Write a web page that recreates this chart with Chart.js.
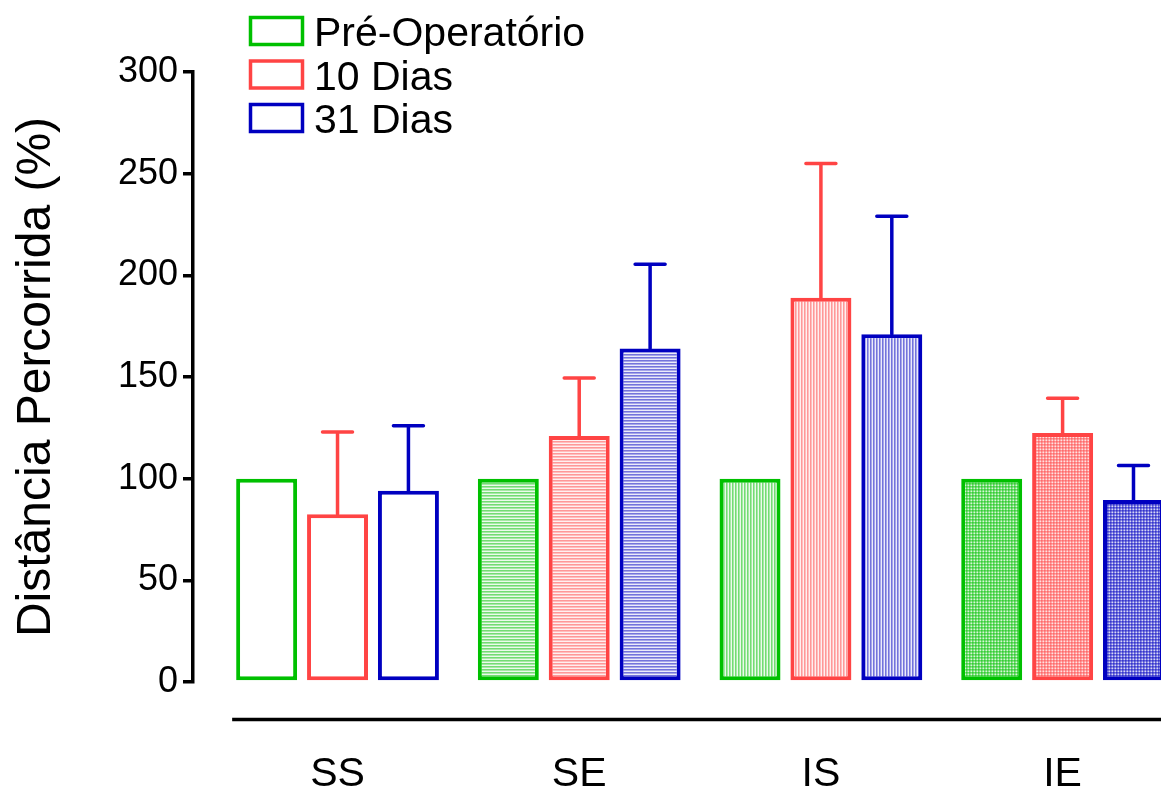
<!DOCTYPE html>
<html>
<head>
<meta charset="utf-8">
<script src="https://cdn.jsdelivr.net/npm/chart.js@4.4.1/dist/chart.umd.min.js"></script>
<style>
  html, body { margin: 0; padding: 0; background: #fff; overflow: hidden; }
  #wrap { position: relative; width: 1200px; height: 787px; }
</style>
</head>
<body>
<div id="wrap"><canvas id="myChart"></canvas></div>
<script>
// data
const groups = ['SS', 'SE', 'IS', 'IE'];
const seriesNames = ['Pré-Operatório', '10 Dias', '31 Dias'];
const preOp = [100, 100, 100, 100];
const days10 = [82.5, 121, 189, 122.5];
const days31 = [94, 164, 171, 89.5];
const err10 = [40.5, 28.5, 66, 17];
const err31 = [32, 41.5, 58, 17];
const yTicks = [0, 50, 100, 150, 200, 250, 300];

Chart.defaults.font.family = '"Liberation Sans", Arial, sans-serif';
Chart.defaults.color = '#000';

const green = '0,192,0';
const red = '255,68,68';
const blue = '0,0,192';

// fill of each group: none, horizontal lines, vertical lines, grid
const fillKinds = ['none', 'h', 'v', 'grid'];
const stripe = [0.55, 0.35, 0.08];

function makePattern(kind, rgb) {
  if (kind === 'none') return '#fff';
  const c = document.createElement('canvas');
  c.width = 3; c.height = 3;
  const g = c.getContext('2d');
  g.fillStyle = '#fff';
  g.fillRect(0, 0, 3, 3);
  for (let i = 0; i < 3; i++) {
    for (let j = 0; j < 3; j++) {
      let a;
      if (kind === 'h') a = stripe[j];
      else if (kind === 'v') a = stripe[i];
      else a = 1 - (1 - stripe[i]) * (1 - stripe[j]);
      g.fillStyle = 'rgba(' + rgb + ',' + a + ')';
      g.fillRect(i, j, 1, 1);
    }
  }
  return g.createPattern(c, 'repeat');
}

function toPoints(arr) {
  return arr.map((v, i) => ({ x: i, y: v }));
}

function makeSet(label, values, errors, rgb) {
  return {
    label: label,
    data: toPoints(values),
    errors: errors,
    borderColor: 'rgb(' + rgb + ')',
    backgroundColor: fillKinds.map(k => makePattern(k, rgb)),
    borderWidth: 4,
    borderSkipped: false
  };
}

const errorBars = {
  id: 'errorBars',
  afterDatasetsDraw(chart) {
    const ctx = chart.ctx;
    const y = chart.scales.y;
    chart.data.datasets.forEach((ds, i) => {
      if (!ds.errors) return;
      chart.getDatasetMeta(i).data.forEach((bar, j) => {
        const top = y.getPixelForValue(ds.data[j].y + ds.errors[j]);
        ctx.save();
        ctx.strokeStyle = ds.borderColor;
        ctx.lineWidth = 3.5;
        ctx.lineCap = 'round';
        ctx.beginPath();
        ctx.moveTo(bar.x, bar.y);
        ctx.lineTo(bar.x, top);
        ctx.moveTo(bar.x - 15, top);
        ctx.lineTo(bar.x + 15, top);
        ctx.stroke();
        ctx.restore();
      });
    });
  }
};

const legendBoxes = {
  id: 'legendBoxes',
  afterDraw(chart) {
    const ctx = chart.ctx;
    chart.data.datasets.forEach((ds, i) => {
      const top = 16 + i * 43.5;
      ctx.save();
      ctx.fillStyle = '#fff';
      ctx.fillRect(250, top + 1.5, 52, 27);
      ctx.lineWidth = 3.5;
      ctx.strokeStyle = ds.borderColor;
      ctx.strokeRect(250.5, top + 1.5, 52, 27);
      ctx.fillStyle = '#000';
      ctx.font = '41px "Liberation Sans", Arial, sans-serif';
      ctx.textBaseline = 'alphabetic';
      ctx.fillText(ds.label, 314, top + 30);
      ctx.restore();
    });
  }
};

const xLine = {
  id: 'xLine',
  afterDraw(chart) {
    const ctx = chart.ctx;
    const first = chart.getDatasetMeta(0).data[0];
    const x0 = first.x - first.width / 2 - 4;
    const yy = chart.chartArea.bottom + 37.5;
    ctx.save();
    ctx.strokeStyle = '#000';
    ctx.lineWidth = 3.5;
    ctx.beginPath();
    ctx.moveTo(x0, yy);
    ctx.lineTo(chart.width, yy);
    ctx.stroke();
    ctx.restore();
  }
};

const ctx = document.getElementById('myChart');
new Chart(ctx, {
  type: 'bar',
  data: {
    datasets: [
      makeSet(seriesNames[0], preOp, null, green),
      makeSet(seriesNames[1], days10, err10, red),
      makeSet(seriesNames[2], days31, err31, blue)
    ]
  },
  options: {
    responsive: true,
    maintainAspectRatio: false,
    animation: false,
    layout: { padding: { top: 72, left: 0, right: 0, bottom: 0 } },
    categoryPercentage: 0.88,
    barPercentage: 0.86,
    plugins: {
      legend: { display: false },
      tooltip: { enabled: false }
    },
    scales: {
      x: {
        type: 'linear',
        offset: false,
        min: -0.598,
        max: 3.5685,
        grid: { display: false },
        border: { display: false },
        afterBuildTicks: s => { s.ticks = groups.map((g, i) => ({ value: i })); },
        afterFit: s => { s.height = 105; },
        ticks: {
          callback: v => groups[v],
          font: { size: 41 },
          color: '#000',
          padding: 60,
          maxRotation: 0,
          autoSkip: false
        }
      },
      y: {
        min: 0,
        max: 300,
        afterBuildTicks: s => { s.ticks = yTicks.map(v => ({ value: v })); },
        afterFit: s => { s.width = 193; },
        grid: { drawOnChartArea: false, color: '#000', lineWidth: 3.5, tickLength: 10 },
        border: { color: '#000', width: 3.5 },
        ticks: { font: { size: 36 }, color: '#000', padding: 5 },
        title: {
          display: true,
          text: 'Distância Percorrida (%)',
          font: { size: 48 },
          color: '#000',
          padding: { top: 8, bottom: 0 }
        }
      }
    }
  },
  plugins: [errorBars, legendBoxes, xLine]
});
</script>
</body>
</html>
